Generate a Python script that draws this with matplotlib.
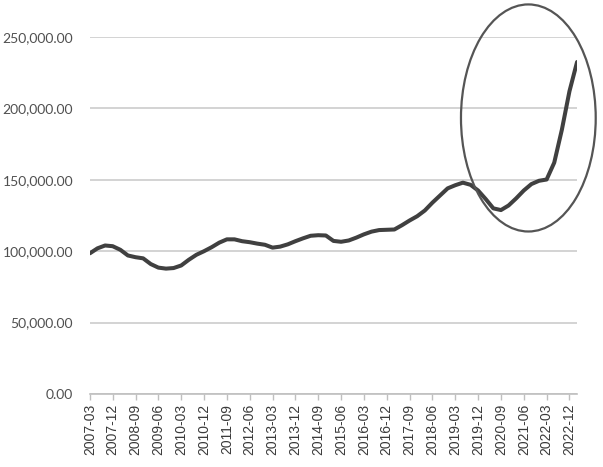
import matplotlib
matplotlib.use("Agg")
import matplotlib.pyplot as plt
from matplotlib.patches import Ellipse
from matplotlib.ticker import FuncFormatter

quarters = [f"{y}-{m:02d}" for y in range(2007, 2024) for m in (3, 6, 9, 12)][:65]
values = [
    98500, 102000, 104000, 103500, 101000, 97000, 95800, 95000,
    91000, 88500, 87800, 88200, 90000, 94000, 97500, 100000,
    102800, 106000, 108300, 108300, 107000, 106300, 105300, 104500,
    102500, 103200, 104800, 107000, 109000, 110800, 111200, 111000,
    107200, 106600, 107500, 109500, 111800, 113700, 114800, 115000,
    115200, 118200, 121500, 124500, 128500, 134000, 139000, 144000,
    146200, 148000, 146500, 142500, 136500, 130000, 128800, 132000,
    137000, 142500, 147000, 149300, 150200, 162000, 185000, 212000,
    232500,
]
y_ticks = [0, 50000, 100000, 150000, 200000, 250000]
# highlighted region (ellipse) in data coordinates
ell_center = (57.6, 193300)
ell_size = (17.7, 159000)

fig = plt.figure(figsize=(6.03, 4.67), dpi=100)
ax = fig.add_axes([0.149, 0.1563, 0.808, 0.7645])

x = list(range(len(values)))
ax.plot(x, values, color="#404040", lw=2.9, solid_joinstyle="round", solid_capstyle="round", zorder=3)

ax.set_xlim(0, len(values) - 1)
ax.set_ylim(0, 250000)
ax.set_yticks(y_ticks)
ax.yaxis.set_major_formatter(FuncFormatter(lambda v, p: f"{v:,.2f}"))
ax.grid(axis="y", color="#cccccc", lw=1.2)
ax.set_axisbelow(True)

tick_idx = list(range(0, len(values), 3))
ax.set_xticks(tick_idx)
ax.set_xticklabels([quarters[i] for i in tick_idx], rotation=90, fontsize=10,
                   color="#3a3a3a", family="Liberation Sans")
ax.tick_params(axis="x", length=4, color="#bfbfbf", width=1, pad=3)
ax.tick_params(axis="y", length=0, pad=12, labelsize=10, labelcolor="#505050")
for lab in ax.get_yticklabels():
    lab.set_family("Lato")

for s in ("top", "right", "left"):
    ax.spines[s].set_visible(False)
ax.spines["bottom"].set_color("#bfbfbf")
ax.spines["bottom"].set_linewidth(1.2)

ell = Ellipse(ell_center, ell_size[0], ell_size[1], fill=False,
              edgecolor="#555555", lw=1.6, clip_on=False, zorder=4)
ax.add_patch(ell)

fig.savefig("out.png", dpi=100)
